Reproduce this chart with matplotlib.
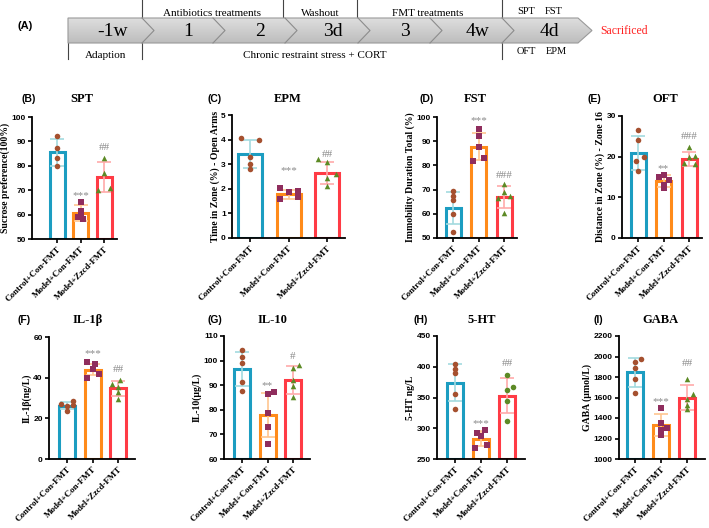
import numpy as np
import matplotlib
matplotlib.use("Agg")
import matplotlib.pyplot as plt
from matplotlib.patches import Polygon

W, H = 709, 528
fig = plt.figure(figsize=(W / 100, H / 100), dpi=100)

SERIF = ["Liberation Serif", "DejaVu Serif"]
SANS = ["Liberation Sans", "DejaVu Sans"]

# ---------------- data ----------------
groups = ["Control+Con-FMT", "Model+Con-FMT", "Model+Zzcd-FMT"]

stage_labels = ["-1w", "1", "2", "3d", "3", "4w", "4d"]
upper_labels = ["Antibiotics treatments", "Washout", "FMT treatments"]
lower_labels = ["Adaption", "Chronic restraint stress + CORT"]
test_top = ["SPT", "FST"]
test_bottom = ["OFT", "EPM"]
end_label = "Sacrificed"

# (B) SPT
spt_mean = [85.5, 60.7, 75.3]
spt_sd = [5.6, 3.3, 6.1]
spt_ctrl = [92.2, 87.5, 83.3, 80.0]
spt_model = [65.0, 61.5, 60.0, 59.0, 58.0]
spt_zzcd = [83.3, 77.2, 70.0, 71.0]
spt_sig = ["", "***", "##"]

# (C) EPM
epm_mean = [3.40, 1.78, 2.65]
epm_sd = [0.57, 0.19, 0.45]
epm_ctrl = [4.05, 4.00, 3.30, 3.00, 2.80]
epm_model = [2.03, 1.85, 1.90, 1.60, 1.68]
epm_zzcd = [3.20, 3.07, 2.60, 2.42, 2.10]
epm_sig = ["", "***", "##"]

# (D) FST
fst_mean = [62.5, 87.7, 67.0]
fst_sd = [6.7, 5.5, 4.4]
fst_ctrl = [69.3, 67.2, 65.5, 60.0, 52.5]
fst_model = [95.0, 92.2, 87.5, 83.2, 82.0]
fst_zzcd = [72.2, 69.0, 66.5, 67.3, 60.5]
fst_sig = ["", "***", "###"]

# (E) OFT
oft_mean = [21.0, 14.0, 19.5]
oft_sd = [4.2, 1.5, 1.7]
oft_ctrl = [26.5, 24.2, 19.8, 19.0, 16.5]
oft_model = [15.5, 15.0, 14.3, 13.0, 12.2]
oft_zzcd = [22.3, 20.2, 19.8, 18.5, 18.3]
oft_sig = ["", "**", "###"]

# (F) IL-1b
il1_mean = [26.3, 44.0, 34.7]
il1_sd = [1.7, 2.8, 3.6]
il1_ctrl = [28.7, 27.2, 26.2, 26.5, 23.8]
il1_model = [47.5, 46.8, 44.3, 41.8, 40.0]
il1_zzcd = [39.0, 37.0, 35.3, 33.0, 29.5]
il1_sig = ["", "***", "##"]

# (G) IL-10
il10_mean = [96.5, 78.0, 92.0]
il10_sd = [7.0, 9.0, 5.7]
il10_ctrl = [104.5, 101.5, 99.0, 91.3, 87.8]
il10_model = [87.2, 86.3, 78.7, 73.0, 66.0]
il10_zzcd = [98.3, 97.0, 92.0, 89.5, 85.0]
il10_sig = ["", "**", "#"]

# (H) 5-HT
ht_mean = [374.0, 283.0, 353.0]
ht_sd = [30.0, 12.0, 28.0]
ht_ctrl = [404.0, 397.0, 390.0, 355.0, 331.0]
ht_model = [297.0, 293.0, 287.0, 272.0, 268.0]
ht_zzcd = [386.0, 367.0, 362.0, 345.0, 311.0]
ht_sig = ["", "***", "##"]

# (I) GABA
gaba_mean = [1845.0, 1330.0, 1600.0]
gaba_sd = [140.0, 105.0, 118.0]
gaba_ctrl = [1980.0, 1950.0, 1890.0, 1780.0, 1640.0]
gaba_model = [1495.0, 1355.0, 1305.0, 1280.0, 1230.0]
gaba_zzcd = [1780.0, 1630.0, 1590.0, 1530.0, 1490.0]
gaba_sig = ["", "***", "##"]

# ---------------- styles ----------------
edge_cols = ["#1c9dc1", "#ff8b1a", "#ff3b45"]
err_cols = ["#a3dadf", "#ffc690", "#ffaaaa"]
pt_cols = ["#a5502f", "#8f2d5d", "#5c8a25"]
pt_marks = ["o", "s", "^"]


def fx(x):
    return x / W


def fy(y):
    return 1 - y / H


def add_axes_px(l, t, r, b):
    return fig.add_axes([fx(l), fy(b), fx(r) - fx(l), fy(t) - fy(b)])


# ---------------- panel A: timeline ----------------
axA = fig.add_axes([0, 0, 1, 1], zorder=-1)
axA.set_xlim(0, W)
axA.set_ylim(H, 0)
axA.axis("off")

bx0, bx1, btip, by0, by1 = 68, 578, 592, 18, 43
ymid = (by0 + by1) / 2
bar_poly = Polygon([(bx0, by0), (bx1, by0), (btip, ymid), (bx1, by1), (bx0, by1)],
                   closed=True, facecolor="none", edgecolor="#9a9a9a", lw=0.8, zorder=3)
axA.add_patch(bar_poly)
grad = np.linspace(0, 1, 64).reshape(-1, 1)
im = axA.imshow(grad, extent=[bx0, btip, by1, by0], cmap=matplotlib.colors.LinearSegmentedColormap.from_list(
    "g", ["#dedede", "#bdbdbd"]), aspect="auto", zorder=2)
im.set_clip_path(bar_poly)

bounds = [142, 213, 285, 358, 430, 502]
for xb in bounds:
    axA.plot([xb, xb + 12, xb], [by0, ymid, by1], color="#8c8c8c", lw=0.8, zorder=4)

vlines = [(68, by1, 59), (142, 0, 59), (283, 0, by0), (357, 0, by0), (502, 0, 59)]
for xv, y0, y1 in vlines:
    axA.plot([xv, xv], [y0, y1], color="#444444", lw=0.8, zorder=1)

stage_x = [113, 188, 260, 333, 405, 478, 549]
for lab, xs in zip(stage_labels, stage_x):
    axA.text(xs, ymid + 1, lab, fontsize=14, family=SERIF, ha="center", va="center", zorder=5)

for lab, xs in zip(upper_labels, [212, 320, 428]):
    axA.text(xs, 13, lab, fontsize=8, family=SERIF, ha="center", va="center")
for lab, xs in zip(lower_labels, [106, 315]):
    axA.text(xs, 56, lab, fontsize=8, family=SERIF, ha="center", va="center")
for lab, xs in zip(test_top, [526, 554]):
    axA.text(xs, 11, lab, fontsize=7.5, family=SERIF, ha="center", va="center")
for lab, xs in zip(test_bottom, [526, 556]):
    axA.text(xs, 52, lab, fontsize=7.5, family=SERIF, ha="center", va="center")
axA.text(600, ymid + 1, end_label, fontsize=8.5, family=SERIF, color="#ff2020", ha="left", va="center")
axA.text(18, 26, "(A)", fontsize=8, family=SANS, weight="bold", ha="left", va="center")

# ---------------- bar panels ----------------
panels = [
    dict(letter="(B)", title="SPT", ylabel="Sucrose preference(100%)",
         mean=spt_mean, sd=spt_sd, pts=[spt_ctrl, spt_model, spt_zzcd], sig=spt_sig,
         sig_y=[None, 69.4, 87.6], yticks=[50, 60, 70, 80, 90, 100],
         rect=(32, 117, 117, 239), centers=(57, 81, 104), bw=15,
         dx=[[0, 0, 0, 0], [0, 0, 0, -0.3, 0.3], [0, 0, -0.75, 0.75]],
         letter_xy=(22, 99), title_x=82),
    dict(letter="(C)", title="EPM", ylabel="Time in Zone (%) - Open Arms",
         mean=epm_mean, sd=epm_sd, pts=[epm_ctrl, epm_model, epm_zzcd], sig=epm_sig,
         sig_y=[None, 2.9, 3.41], yticks=[0, 1, 2, 3, 4, 5],
         rect=(232, 115, 345, 238), centers=(250, 288, 327), bw=24,
         dx=[[-0.75, 0.75, 0, 0, 0], [-0.75, 0, 0.75, -0.75, 0.75], [-0.75, 0, 0.75, 0, 0]],
         letter_xy=(207, 99), title_x=288),
    dict(letter="(D)", title="FST", ylabel="Immobility Duration Total (%)",
         mean=fst_mean, sd=fst_sd, pts=[fst_ctrl, fst_model, fst_zzcd], sig=fst_sig,
         sig_y=[None, 99.9, 75.7], yticks=[50, 60, 70, 80, 90, 100],
         rect=(437, 117, 517, 238), centers=(453, 477, 504), bw=15,
         dx=[[0, 0, 0, 0, 0], [0, 0, 0, 0.75, -0.75], [0, 0, -0.75, 0.75, 0]],
         letter_xy=(420, 99), title_x=475),
    dict(letter="(E)", title="OFT", ylabel="Distance in Zone (%) - Zone 16",
         mean=oft_mean, sd=oft_sd, pts=[oft_ctrl, oft_model, oft_zzcd], sig=oft_sig,
         sig_y=[None, 18.0, 24.9], yticks=[0, 10, 20, 30],
         rect=(622, 116, 702, 238), centers=(638, 662, 689), bw=15,
         dx=[[0, 0, 0.75, -0.3, 0], [0, -0.6, 0.75, 0, 0], [0, 0.75, 0, -0.7, 0.75]],
         letter_xy=(588, 99), title_x=665),
    dict(letter="(F)", title="IL-1β", ylabel="IL-1β(ng/L)",
         mean=il1_mean, sd=il1_sd, pts=[il1_ctrl, il1_model, il1_zzcd], sig=il1_sig,
         sig_y=[None, 53.3, 44.1], yticks=[0, 20, 40, 60],
         rect=(49, 337, 135, 459), centers=(67, 92, 118), bw=16,
         dx=[[0.75, -0.75, 0, 0.75, 0], [-0.75, 0.3, 0, 0.75, -0.75], [0.3, -0.75, 0, 0, 0]],
         letter_xy=(17, 320), title_x=88),
    dict(letter="(G)", title="IL-10", ylabel="IL-10(μg/L)",
         mean=il10_mean, sd=il10_sd, pts=[il10_ctrl, il10_model, il10_zzcd], sig=il10_sig,
         sig_y=[None, 91.4, 101.6], yticks=[60, 70, 80, 90, 100, 110],
         rect=(224, 336, 310, 459), centers=(242, 267, 293), bw=16,
         dx=[[0, 0, 0, 0, 0], [0.75, 0, 0, 0, 0], [0.75, 0, 0, 0, 0]],
         letter_xy=(207, 320), title_x=272),
    dict(letter="(H)", title="5-HT", ylabel="5-HT ng/L",
         mean=ht_mean, sd=ht_sd, pts=[ht_ctrl, ht_model, ht_zzcd], sig=ht_sig,
         sig_y=[None, 313, 405], yticks=[250, 300, 350, 400, 450],
         rect=(437, 336, 525, 459), centers=(455, 481, 507), bw=16,
         dx=[[0, 0, 0, 0, 0], [0.5, -0.5, 0, 0.75, -0.75], [0, 0.75, 0, 0, 0]],
         letter_xy=(413, 320), title_x=482, zz_marker="o"),
    dict(letter="(I)", title="GABA", ylabel="GABA (μmol/L)",
         mean=gaba_mean, sd=gaba_sd, pts=[gaba_ctrl, gaba_model, gaba_zzcd], sig=gaba_sig,
         sig_y=[None, 1590, 1930], yticks=[1000, 1200, 1400, 1600, 1800, 2000, 2200],
         rect=(619, 336, 705, 459), centers=(635, 661, 687), bw=16,
         dx=[[0.75, 0, 0, 0, 0], [0, 0, 0.75, 0, 0], [0, 0.75, 0, 0, 0]],
         letter_xy=(593, 320), title_x=660),
]

for p in panels:
    l, t, r, b = p["rect"]
    ax = add_axes_px(l, t, r, b)
    c0, c1, c2 = p["centers"]
    s = (c2 - c0) / 2.0
    ax.set_xlim((l - c0) / s, (r - c0) / s)
    ymin, ymax = p["yticks"][0], p["yticks"][-1]
    ax.set_ylim(ymin, ymax)
    xpos = np.arange(3)
    bw = p["bw"] / s
    ax.bar(xpos, np.array(p["mean"]) - ymin, bottom=ymin, width=bw, facecolor="white",
           edgecolor=edge_cols, linewidth=2.2, zorder=2)
    for i in range(3):
        ax.errorbar(xpos[i], p["mean"][i], yerr=p["sd"][i], color=err_cols[i], lw=1.2,
                    capsize=5, capthick=1.2, zorder=3)
        mk = pt_marks[i]
        if i == 2 and p.get("zz_marker"):
            mk = p["zz_marker"]
        vals = p["pts"][i]
        offs = np.array(p["dx"][i]) * bw / 2
        ax.scatter(xpos[i] + offs, vals, marker=mk, s=16, color=pt_cols[i], zorder=4,
                   linewidths=0)
        lab = p["sig"][i]
        if lab:
            off = -2.5 if "*" in lab else 0
            ax.annotate(lab, (xpos[i], p["sig_y"][i]), xytext=(0, off), textcoords="offset points",
                        ha="center", va="center", fontsize=8, family=SERIF, color="#8a8a8a",
                        zorder=5)
    for sp in ["top", "right"]:
        ax.spines[sp].set_visible(False)
    for sp in ["left", "bottom"]:
        ax.spines[sp].set_linewidth(1.3)
    ax.set_yticks(p["yticks"])
    ax.set_yticklabels([str(v) for v in p["yticks"]], family=SANS, weight="bold", fontsize=6)
    ax.set_xticks(xpos)
    ax.set_xticklabels(groups, rotation=45, ha="right", rotation_mode="anchor",
                       family=SERIF, weight="bold", fontsize=6.5)
    ax.tick_params(axis="both", direction="out", length=3, width=1.2, pad=1.5)
    ax.set_ylabel(p["ylabel"], family=SERIF, weight="bold", fontsize=7, labelpad=1)
    lx, ly = p["letter_xy"]
    fig.text(fx(lx), fy(ly), p["letter"], family=SANS, weight="bold", fontsize=7.5,
             ha="left", va="center")
    fig.text(fx(p["title_x"]), fy(ly), p["title"], family=SERIF, weight="bold", fontsize=9,
             ha="center", va="center")

fig.savefig("out.png", dpi=100)
